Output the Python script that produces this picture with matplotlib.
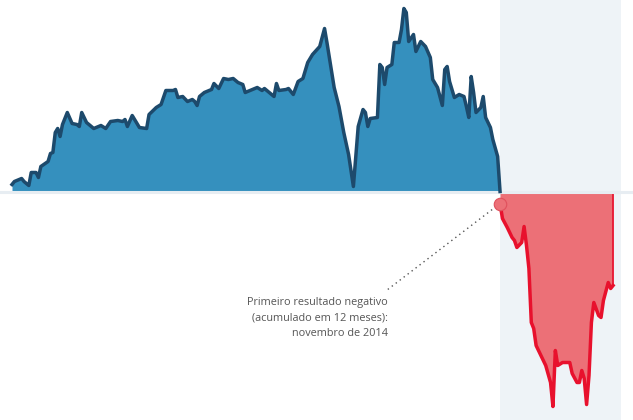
import matplotlib
matplotlib.use("Agg")
import matplotlib.pyplot as plt

# Months counted from Dec 1997 (month 0); values: 12-month accumulated primary result
pos_months = [0, 1, 4, 5, 7, 8, 10, 11, 12, 15, 16, 17, 18, 19, 20, 21, 23, 25, 27, 28,
              29, 31, 34, 37, 39, 41, 44, 46, 47, 48, 50, 52, 53, 56, 57, 60, 62, 64, 67, 68,
              69, 71, 73, 75, 76, 77, 78, 80, 82, 83, 84, 86, 88, 90, 92, 94, 96, 97, 100, 102,
              104, 105, 107, 109, 110, 111, 114, 115, 117, 119, 121, 123, 125, 128, 130, 131, 134, 136, 138, 140,
              142, 144, 146, 147, 148, 149, 152, 153, 154, 155, 156, 158, 159, 161, 162, 163, 164, 165, 167, 168,
              170, 172, 174, 175, 177, 179, 180, 181, 182, 184, 186, 188, 189, 190, 191, 192, 193, 195, 196, 197,
              199, 200, 202, 203]
pos_values = [0.07, 0.10, 0.13, 0.10, 0.06, 0.19, 0.19, 0.14, 0.25, 0.30, 0.38, 0.39, 0.59, 0.63, 0.55, 0.67, 0.79, 0.68, 0.67, 0.65,
              0.79, 0.69, 0.63, 0.66, 0.63, 0.70, 0.71, 0.70, 0.72, 0.65, 0.76, 0.68, 0.64, 0.63, 0.77, 0.84, 0.87, 1.01, 1.01, 1.02,
              0.94, 0.95, 0.90, 0.92, 0.90, 0.86, 0.95, 0.99, 1.01, 1.02, 1.08, 1.03, 1.13, 1.12, 1.13, 1.09, 1.07, 0.99, 1.02, 1.04,
              1.01, 1.03, 0.99, 0.95, 1.08, 1.01, 1.02, 1.03, 0.97, 1.10, 1.13, 1.29, 1.37, 1.45, 1.63, 1.49, 1.04, 0.85, 0.59, 0.37,
              0.05, 0.65, 0.82, 0.79, 0.65, 0.73, 0.74, 1.27, 1.24, 1.07, 1.24, 1.27, 1.49, 1.49, 1.62, 1.83, 1.79, 1.50, 1.57, 1.40,
              1.50, 1.45, 1.34, 1.12, 1.04, 0.86, 1.22, 1.25, 1.10, 0.94, 0.97, 0.95, 0.85, 0.74, 1.15, 0.99, 0.79, 0.84, 0.95, 0.74,
              0.64, 0.52, 0.35, 0.0]

neg_months = [203, 204, 206, 208, 209, 210, 212, 213, 214, 215, 216, 217, 218, 220, 222, 224, 225, 226, 227, 229,
              232, 233, 235, 236, 237, 238, 239, 240, 241, 242, 244, 245, 246, 248, 249, 250]
neg_values = [-0.12, -0.27, -0.36, -0.46, -0.49, -0.56, -0.51, -0.35, -0.54, -0.77, -1.31, -1.37, -1.54, -1.64, -1.74, -1.91, -2.15, -1.59, -1.74, -1.71,
              -1.71, -1.82, -1.91, -1.91, -1.79, -1.87, -2.13, -1.84, -1.31, -1.11, -1.24, -1.26, -1.09, -0.91, -0.97, -0.94]

shade_start, shade_end = 203, 253.3
first_negative = (203, -0.12)
note_anchor = (156, -0.985)
note_text = "Primeiro resultado negativo\n(acumulado em 12 meses):\nnovembro de 2014"

fig = plt.figure(figsize=(6.33, 4.20), dpi=100)
ax = fig.add_axes([0, 0, 1, 1])
ax.set_xlim(-4.99, 258.3)
ax.set_ylim(-2.285, 1.915)
ax.axis("off")

ax.axvspan(shade_start, shade_end, color="#eef3f7", zorder=0, lw=0)

ax.fill_between(pos_months, pos_values, 0, color="#3590be", lw=0, zorder=1)
ax.plot(pos_months, pos_values, color="#1d4a6c", lw=2.5, zorder=4, solid_joinstyle="round")

ax.fill_between(neg_months, neg_values, 0, color="#ec7077", lw=0, zorder=1)
ax.plot(neg_months, neg_values, color="#e8112d", lw=2.5, zorder=4, solid_joinstyle="round")
ax.plot([neg_months[-1], neg_months[-1]], [neg_values[-1], 0], color="#e8112d", lw=1.2, zorder=2)

ax.axhline(0, color="#e7edf2", lw=2.2, zorder=3)

ax.plot([first_negative[0], note_anchor[0]], [first_negative[1], note_anchor[1]],
        color="#555555", lw=1.0, linestyle=(0, (1, 2.6)), zorder=5)
ax.plot([first_negative[0]], [first_negative[1]], "o", ms=9, mfc="#ec7077", mec="#e0505c",
        mew=0.8, zorder=6)

ax.text(note_anchor[0] + 0.2, note_anchor[1] - 0.065, note_text, ha="right", va="top",
        fontsize=7.8, family="Open Sans", color="#555555", linespacing=1.62, multialignment="right")

fig.savefig("out.png", dpi=100)
